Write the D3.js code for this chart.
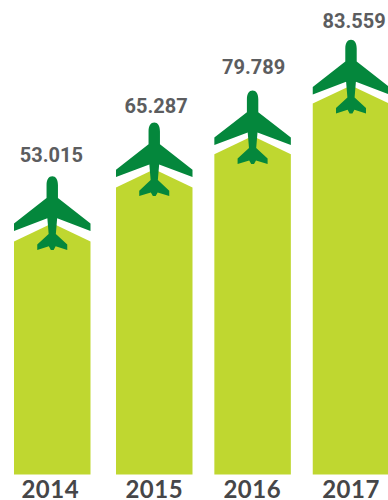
<!DOCTYPE html>
<html>
<head>
<meta charset="utf-8">
<script src="https://cdn.jsdelivr.net/npm/d3@7"></script>
<style>
  html, body { margin: 0; padding: 0; background: #fff; }
  svg { display: block; }
</style>
</head>
<body>
<script>
// Passenger totals per year
const years = ["2014", "2015", "2016", "2017"];
const values = [53.015, 65.287, 79.789, 83.559];
const valueLabels = ["53.015", "65.287", "79.789", "83.559"];

const width = 388, height = 500;
const baseline = 474.6;
const barWidth = 76.5;

const svg = d3.select("body").append("svg")
  .attr("width", width)
  .attr("height", height);

// Horizontal anchors are set by hand: the gaps are slightly uneven
const x = d3.scaleOrdinal().domain(years).range([52.25, 154.25, 252.6, 351]);
const xValue = d3.scaleOrdinal().domain(years).range([51.4, 156.2, 253.7, 354.2]);
const xYear = d3.scaleOrdinal().domain(years).range([50.3, 154.3, 252.3, 351]);

// Pictogram scales with one bend at 2016: column shoulder, aircraft and label heights by value
const domain = [0, 65.287, 79.789, 83.559];
const y = d3.scaleLinear().domain(domain).range([baseline, 187.4, 154.2, 103.6]);
const yPlane = d3.scaleLinear().domain(domain).range([baseline, 188.3, 156.2, 105.6]);
const yLabel = d3.scaleLinear().domain(domain).range([370, 113.3, 74, 28.3]);

const half = barWidth / 2;
const roofRise = 18.2;

// Column with a pitched roof that runs parallel to the wing above it
const columnPath = d => {
  const cx = x(d.year), top = y(d.value);
  return d3.line()([
    [cx - half, baseline],
    [cx - half, top],
    [cx, top - roofRise],
    [cx + half, top],
    [cx + half, baseline]
  ]) + "Z";
};

// Aircraft silhouette, drawn around the column centre
const planePath = [
  "M-5.7,-57",
  "C-5.7,-62.5 -3.4,-65.8 0,-65.8",
  "C3.4,-65.8 5.7,-62.5 5.7,-57",
  "L5.7,-44",
  "L38.25,-18.6",
  "L38.25,-11.2",
  "L4.9,-23.8",
  "L3.6,-8.2",
  "L15,2.4",
  "L15,7.8",
  "L3.4,4.2",
  "L1.4,7.8",
  "L-1.4,7.8",
  "L-3.4,4.2",
  "L-15,7.8",
  "L-15,2.4",
  "L-3.6,-8.2",
  "L-4.9,-23.8",
  "L-38.25,-11.2",
  "L-38.25,-18.6",
  "L-5.7,-44",
  "Z"
].join("");

const rows = years.map((year, i) => ({ year, value: values[i], label: valueLabels[i] }));

const groups = svg.selectAll("g.year")
  .data(rows)
  .join("g")
  .attr("class", "year");

groups.append("path")
  .attr("d", columnPath)
  .attr("fill", "#bfd730");

groups.append("path")
  .attr("d", planePath)
  .attr("transform", d => `translate(${x(d.year)},${yPlane(d.value)})`)
  .attr("fill", "#04873c");

groups.append("text")
  .attr("x", d => xValue(d.year))
  .attr("y", d => yLabel(d.value))
  .attr("text-anchor", "middle")
  .attr("font-family", "Roboto, sans-serif")
  .attr("font-weight", 700)
  .attr("font-size", 20)
  .attr("fill", "#5c5d5f")
  .text(d => d.label);

groups.append("text")
  .attr("x", d => xYear(d.year))
  .attr("y", 498.3)
  .attr("text-anchor", "middle")
  .attr("font-family", "Lato, sans-serif")
  .attr("font-weight", 700)
  .attr("font-size", 24)
  .attr("letter-spacing", 0.5)
  .attr("fill", "#464648")
  .text(d => d.year);
</script>
</body>
</html>
